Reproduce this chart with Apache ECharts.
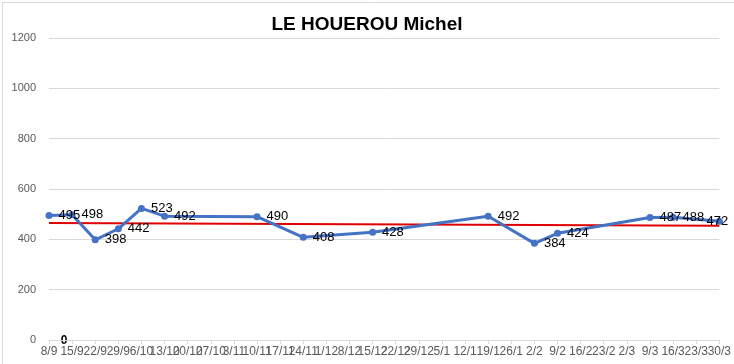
<!DOCTYPE html>
<html><head><meta charset="utf-8">
<script src="https://cdn.jsdelivr.net/npm/echarts@6/dist/echarts.min.js"></script>
<style>html,body{margin:0;padding:0;background:#fff}#c{width:734px;height:364px}</style>
</head><body><div id="c"></div>
<script>
const categories = ["8/9","15/9","22/9","29/9","6/10","13/10","20/10","27/10","3/11","10/11","17/11","24/11","1/12","8/12","15/12","22/12","29/12","5/1","12/1","19/1","26/1","2/2","9/2","16/2","23/2","2/3","9/3","16/3","23/3","30/3"];
const scores = [495,498,398,442,523,492,null,null,null,490,null,408,null,null,428,null,null,null,null,492,null,384,424,null,null,null,487,488,null,472];
const trend = [465,null,null,null,null,null,null,null,null,null,null,null,null,null,null,null,null,null,null,null,null,null,null,null,null,null,null,null,null,454];
const yTicks = {min:0, max:1200, interval:200};
const titleText = "LE HOUEROU Michel";
const zeroMark = "0";

const chart = echarts.init(document.getElementById('c'), null, {renderer:'canvas'});
const lastIdx = scores.length - 1;
const scoreData = scores.map((v,i)=> i===lastIdx ? {value:v, label:{position:'inside', offset:[-2,0]}} : v);
chart.setOption({
  animation:false,
  title:{text:titleText, left:'center', top:10, textStyle:{fontFamily:'Liberation Sans', fontWeight:'bold', fontSize:19, color:'#000'}},
  grid:{left:49, right:11, top:38, bottom:24, containLabel:false},
  xAxis:{type:'category', data:categories, boundaryGap:false,
    axisLine:{lineStyle:{color:'#d9d9d9'}},
    axisTick:{show:true, length:4, interval:0, lineStyle:{color:'#d9d9d9'}},
    axisLabel:{interval:0, color:'#595959', fontSize:12, margin:6, fontFamily:'Liberation Sans Narrow, Liberation Sans'}},
  yAxis:{type:'value', min:yTicks.min, max:yTicks.max, interval:yTicks.interval,
    axisLine:{show:false}, axisTick:{show:false},
    splitLine:{lineStyle:{color:'#d9d9d9'}},
    axisLabel:{color:'#595959', fontSize:11, margin:13, fontFamily:'Liberation Sans', formatter:v=>String(v)}},
  series:[
    {type:'line', data:trend, connectNulls:true, symbol:'none', z:2,
     lineStyle:{color:'#e00000', width:2}},
    {type:'line', data:scoreData, connectNulls:true, symbol:'circle', symbolSize:7, z:3,
     itemStyle:{color:'#4472c4'}, lineStyle:{color:'#4472c4', width:3},
     label:{show:true, position:'right', distance:6, color:'#000', fontSize:13, fontFamily:'Liberation Sans Narrow, Liberation Sans'}}
  ],
  graphic:[
    {type:'rect', left:0, top:0, shape:{width:733, height:363}, style:{fill:'none', stroke:'#d9d9d9', lineWidth:1}, silent:true},
    {type:'text', x:64, y:341, style:{text:zeroMark, fill:'#000', font:'bold 12px Liberation Sans', textAlign:'center', textVerticalAlign:'middle'}}
  ]
});
</script></body></html>
